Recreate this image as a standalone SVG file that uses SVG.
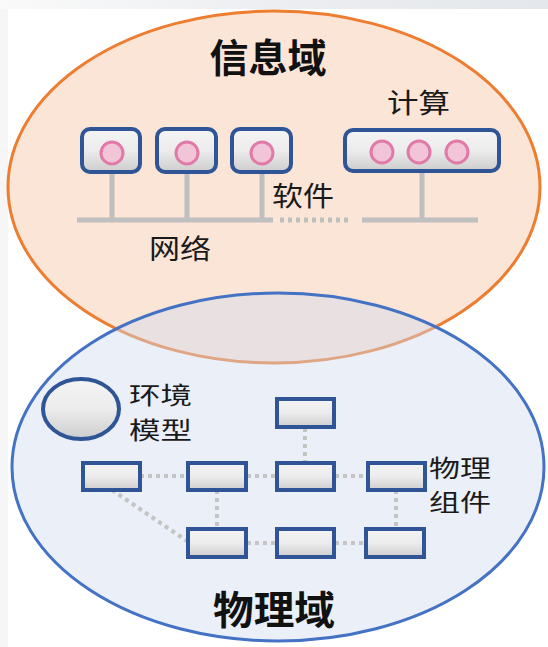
<svg xmlns="http://www.w3.org/2000/svg" width="548" height="647" viewBox="0 0 548 647">
<defs>
<linearGradient id="boxg" x1="0" y1="0" x2="0" y2="1">
<stop offset="0" stop-color="#f4f4f4"/>
<stop offset="0.5" stop-color="#ececec"/>
<stop offset="1" stop-color="#cdcdcd"/>
</linearGradient>
<linearGradient id="topg" x1="0" y1="0" x2="1" y2="0">
<stop offset="0" stop-color="#fafafa"/>
<stop offset="0.5" stop-color="#eceef1"/>
<stop offset="1" stop-color="#e4e7eb"/>
</linearGradient>
<style>
.t{font-family:"Noto Sans CJK SC","Noto Sans",sans-serif;fill:#1a1a1a;font-size:27px}
.t2{font-family:"Noto Sans CJK SC","Noto Sans",sans-serif;fill:#1a1a1a;font-size:23.5px}
.title{font-family:"Noto Sans CJK SC","Noto Sans",sans-serif;fill:#111;font-size:39px;font-weight:bold;text-anchor:middle}
.box{fill:url(#boxg);stroke:#2f5597;stroke-width:4}
.dot{fill:#f2c4d8;stroke:#e17aa8;stroke-width:3}
.bus{stroke:#bfbfbf;stroke-width:5;fill:none}
.link{stroke:#c4c4c4;stroke-width:4;stroke-dasharray:4 4;fill:none}
</style>
</defs>
<rect x="0" y="0" width="548" height="647" fill="#ffffff"/>
<rect x="0" y="0" width="548" height="9" fill="url(#topg)"/>
<rect x="0" y="9" width="8" height="638" fill="#f6f6f6"/>

<g id="info-domain">
<ellipse cx="274" cy="187" rx="266" ry="176" fill="#fbe5d6" stroke="#ed7d31" stroke-width="3"/>
</g>
<g id="physical-domain">
<ellipse cx="278" cy="467" rx="266" ry="174" fill="#cfdaef" fill-opacity="0.43" stroke="#4472c4" stroke-width="3"/>
</g>

<g id="titles">
<text class="title" x="268" y="72">信息域</text>
<text class="title" x="274" y="624" textLength="122" lengthAdjust="spacingAndGlyphs">物理域</text>
</g>

<g id="connectors">
<line class="bus" x1="112" y1="172" x2="112" y2="220"/>
<line class="bus" x1="187" y1="172" x2="187" y2="220"/>
<line class="bus" x1="262" y1="172" x2="262" y2="220"/>
<line class="bus" x1="422" y1="171" x2="422" y2="220"/>
<line class="bus" x1="77" y1="220" x2="273" y2="220"/>
<line class="bus" x1="280" y1="220" x2="350" y2="220" stroke-dasharray="4 4"/>
<line class="bus" x1="362" y1="220" x2="478" y2="220"/>

<line class="link" x1="140" y1="476" x2="187" y2="476"/>
<line class="link" x1="247" y1="476" x2="276" y2="476"/>
<line class="link" x1="335" y1="476" x2="367" y2="476"/>
<line class="link" x1="305" y1="428" x2="305" y2="462"/>
<line class="link" x1="217" y1="490" x2="217" y2="528"/>
<line class="link" x1="112" y1="490" x2="187" y2="541"/>
<line class="link" x1="247" y1="543" x2="276" y2="543"/>
<line class="link" x1="335" y1="543" x2="365" y2="543"/>
<line class="link" x1="396" y1="490" x2="396" y2="528"/>
</g>

<g id="sw1">
<rect class="box" x="82" y="129" width="58" height="43" rx="8"/>
<circle class="dot" cx="112" cy="153" r="11"/>
</g>
<g id="sw2">
<rect class="box" x="157" y="129" width="59" height="43" rx="8"/>
<circle class="dot" cx="187" cy="153" r="11"/>
</g>
<g id="sw3">
<rect class="box" x="232" y="129" width="59" height="43" rx="8"/>
<circle class="dot" cx="262" cy="153" r="11"/>
</g>
<g id="compute">
<rect class="box" x="345" y="130" width="154" height="41" rx="8"/>
<circle class="dot" cx="382" cy="152" r="11"/>
<circle class="dot" cx="419" cy="152" r="11"/>
<circle class="dot" cx="457" cy="152" r="11"/>
</g>

<g id="info-labels">
<text class="t" x="387" y="113" textLength="63" lengthAdjust="spacingAndGlyphs">计算</text>
<text class="t" x="272" y="206" textLength="62" lengthAdjust="spacingAndGlyphs">软件</text>
<text class="t" x="149" y="259" textLength="62" lengthAdjust="spacingAndGlyphs">网络</text>
</g>

<g id="env-model">
<ellipse cx="81" cy="409" rx="38" ry="30" fill="url(#boxg)" stroke="#2f5597" stroke-width="4"/>
<text class="t2" x="129" y="404" textLength="63" lengthAdjust="spacingAndGlyphs">环境</text>
<text class="t2" x="129" y="439" textLength="63" lengthAdjust="spacingAndGlyphs">模型</text>
</g>

<g id="pc-a"><rect class="box" x="83" y="463" width="57" height="27"/></g>
<g id="pc-b"><rect class="box" x="188" y="463" width="58" height="27"/></g>
<g id="pc-c"><rect class="box" x="188" y="529" width="58" height="28"/></g>
<g id="pc-top"><rect class="box" x="277" y="399" width="57" height="28"/></g>
<g id="pc-mid"><rect class="box" x="277" y="463" width="57" height="27"/></g>
<g id="pc-right"><rect class="box" x="368" y="463" width="57" height="27"/></g>
<g id="pc-bmid"><rect class="box" x="277" y="529" width="57" height="28"/></g>
<g id="pc-bright"><rect class="box" x="366" y="529" width="58" height="28"/></g>

<g id="pc-label">
<text class="t2" x="429" y="477" textLength="62" lengthAdjust="spacingAndGlyphs">物理</text>
<text class="t2" x="429" y="511" textLength="62" lengthAdjust="spacingAndGlyphs">组件</text>
</g>
</svg>
